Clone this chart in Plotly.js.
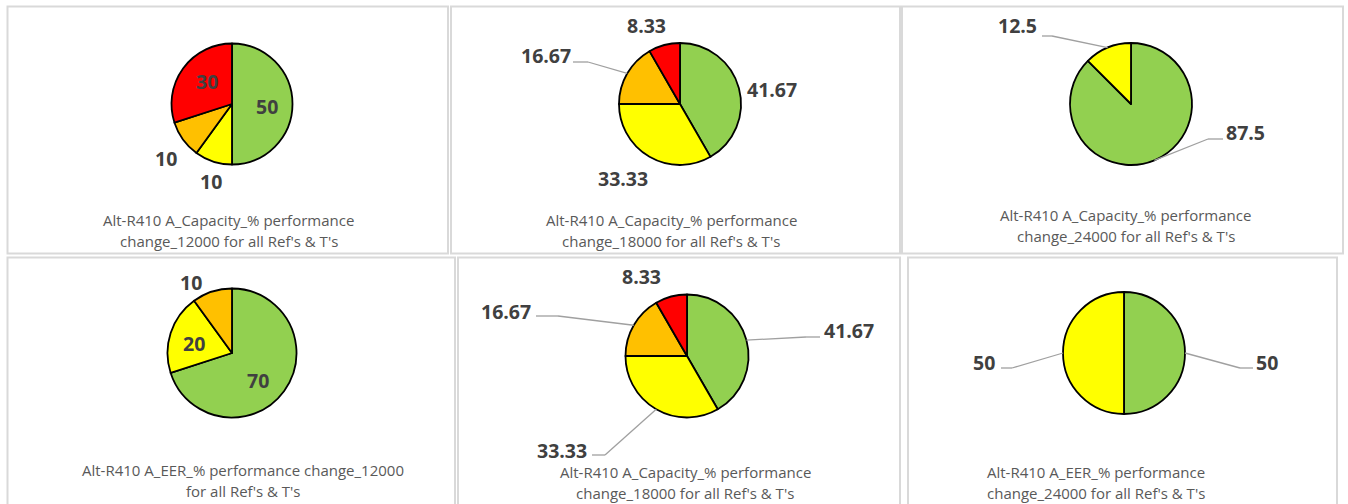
<!DOCTYPE html>
<html>
<head>
<meta charset="utf-8">
<script src="https://cdn.plot.ly/plotly-3.0.1.min.js"></script>
<style>
  html, body { margin: 0; padding: 0; background: #ffffff; }
  #chart { width: 1348px; height: 504px; }
</style>
</head>
<body>
<div id="chart"></div>
<script>
// ---------------- DATA ----------------
const categories = ["Green band", "Yellow band", "Orange band", "Red band"];
const capacity12000 = [50, 10, 10, 30];
const capacity18000 = [41.67, 33.33, 16.67, 8.33];
const capacity24000 = [87.5, 12.5, 0, 0];
const eer12000 = [70, 20, 10, 0];
const capacity18000b = [41.67, 33.33, 16.67, 8.33];
const eer24000 = [50, 50, 0, 0];

const captions = [
  ["Alt-R410 A_Capacity_% performance", "change_12000 for all Ref's & T's"],
  ["Alt-R410 A_Capacity_% performance", "change_18000 for all Ref's & T's"],
  ["Alt-R410 A_Capacity_% performance", "change_24000 for all Ref's & T's"],
  ["Alt-R410 A_EER_% performance change_12000", "for all Ref's & T's"],
  ["Alt-R410 A_Capacity_% performance", "change_18000 for all Ref's & T's"],
  ["Alt-R410 A_EER_% performance", "change_24000 for all Ref's & T's"]
];
const seriesList = [capacity12000, capacity18000, capacity24000, eer12000, capacity18000b, eer24000];

// ---------------- STYLE / LAYOUT ----------------
const W = 1348, H = 504;
const colors = ["#92D050", "#FFFF00", "#FFC000", "#FF0000"];

// per panel: box, pie centre & radius, caption placement, label placement (per category index)
const panels = [
  { box: [7.5, 6.5, 448, 253.5], cx: 232, cy: 104, r: 60.5, capX: 228.5, capY: [220, 241],
    labels: { 0: [267, 106], 3: [207, 82], 2: [166, 158], 1: [211, 181] } },
  { box: [451, 6.5, 900, 253.5], cx: 680, cy: 104, r: 61, capX: 671, capY: [220, 241],
    labels: { 3: [646, 25], 2: [546, 55, 573, 588, 62], 0: [772, 89], 1: [623, 178] } },
  { box: [902, 6.5, 1343, 253.5], cx: 1131, cy: 104, r: 61, capX: 1125.5, capY: [215, 236],
    labels: { 1: [1017, 25, 1042, 1052, 36], 0: [1245, 133, 1223, 1208, 139] } },
  { box: [7.5, 257.5, 455, 512], cx: 232, cy: 353, r: 64.5, capX: 243, capY: [470, 491],
    labels: { 2: [191, 282], 1: [194, 343], 0: [258, 380] } },
  { box: [458, 257.5, 900, 512], cx: 687, cy: 356, r: 61.5, capX: 685, capY: [472, 493],
    labels: { 3: [641, 276], 2: [506, 311, 536, 558, 316], 0: [849, 330, 820, 806, 337], 1: [562, 450, 592, 605, 455] } },
  { box: [908, 257.5, 1337, 512], cx: 1124, cy: 353, r: 61, capX: 1096, capY: [472, 493],
    labels: { 1: [984, 362, 1001, 1012, 368], 0: [1267, 362, 1253, 1240, 368] } }
];

const px = x => x / W;
const py = y => 1 - y / H;

const traces = [];
const shapes = [];
const annotations = [];

panels.forEach((p, i) => {
  const vals = seriesList[i];
  const idx = vals.map((v, k) => k).filter(k => vals[k] > 0);
  traces.push({
    type: "pie",
    labels: idx.map(k => categories[k]),
    values: idx.map(k => vals[k]),
    marker: { colors: idx.map(k => colors[k]), line: { color: "#000000", width: 1.8 } },
    sort: false,
    direction: "clockwise",
    rotation: 0,
    textinfo: "none",
    hoverinfo: "label+value",
    showlegend: false,
    domain: { x: [px(p.cx - p.r), px(p.cx + p.r)], y: [py(p.cy + p.r), py(p.cy - p.r)] }
  });

  // panel border
  shapes.push({ type: "rect", xref: "paper", yref: "paper",
    x0: px(p.box[0]), x1: px(p.box[2]), y0: py(p.box[3]), y1: py(p.box[1]),
    line: { color: "#d9d9d9", width: 2 }, fillcolor: "rgba(0,0,0,0)", layer: "below" });

  // captions
  captions[i].forEach((line, j) => {
    annotations.push({ xref: "paper", yref: "paper", x: px(p.capX), y: py(p.capY[j]),
      xanchor: "center", yanchor: "middle", showarrow: false, text: line,
      font: { family: "Open Sans, Noto Sans, sans-serif", size: 15, color: "#595959" } });
  });

  // data labels, mid-angle from values
  const total = vals.reduce((a, b) => a + b, 0);
  let cum = 0;
  vals.forEach((v, k) => {
    const start = cum; cum += v;
    if (v <= 0) return;
    const L = p.labels[k];
    if (!L) return;
    annotations.push({ xref: "paper", yref: "paper", x: px(L[0]), y: py(L[1]),
      xanchor: "center", yanchor: "middle", showarrow: false, text: String(v),
      font: { family: "Open Sans, Noto Sans, sans-serif", size: 19.5, color: "#404040", weight: 700 } });
    if (L.length > 2) {
      const mid = (start + v / 2) / total * 2 * Math.PI;
      const ex = p.cx + p.r * Math.sin(mid);
      const ey = p.cy - p.r * Math.cos(mid);
      const lc = { color: "#a0a0a0", width: 1.3 };
      shapes.push({ type: "line", xref: "paper", yref: "paper",
        x0: px(L[2]), y0: py(L[4]), x1: px(L[3]), y1: py(L[4]), line: lc });
      shapes.push({ type: "line", xref: "paper", yref: "paper",
        x0: px(L[3]), y0: py(L[4]), x1: px(ex), y1: py(ey), line: lc });
    }
  });
});

const layout = {
  width: W, height: H,
  margin: { l: 0, r: 0, t: 0, b: 0 },
  paper_bgcolor: "#ffffff",
  plot_bgcolor: "#ffffff",
  showlegend: false,
  shapes: shapes,
  annotations: annotations
};

Plotly.newPlot("chart", traces, layout, { staticPlot: true, displayModeBar: false });
</script>
</body>
</html>
